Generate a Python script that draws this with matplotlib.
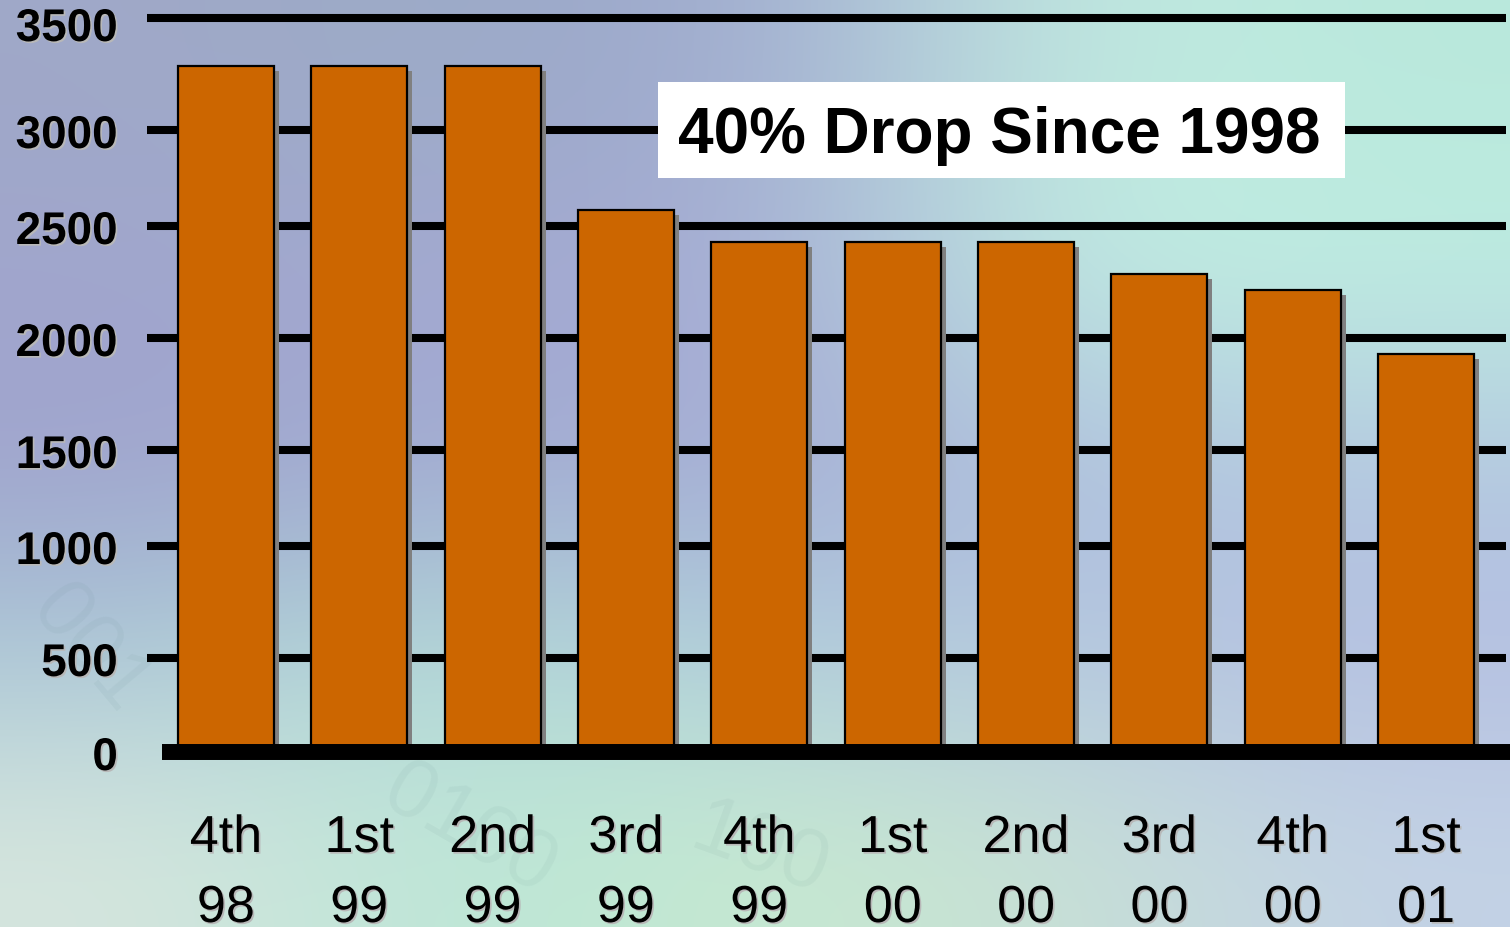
import numpy as np
import matplotlib
matplotlib.use("Agg")
import matplotlib.pyplot as plt
import matplotlib.patheffects as pe
from matplotlib.patches import Rectangle
from matplotlib.transforms import blended_transform_factory, offset_copy

# ---------------- data ----------------
quarters = ["4th", "1st", "2nd", "3rd", "4th", "1st", "2nd", "3rd", "4th", "1st"]
years = ["98", "99", "99", "99", "99", "00", "00", "00", "00", "01"]
values = [3285, 3285, 3285, 2585, 2430, 2430, 2430, 2285, 2215, 1930]
y_ticks = [0, 500, 1000, 1500, 2000, 2500, 3000, 3500]
title_text = "40% Drop Since 1998"

# ---------------- layout helpers ----------------
W, H = 1510, 927
DPI = 100
plt.rcParams['font.family'] = ['Liberation Sans', 'DejaVu Sans']

fig = plt.figure(figsize=(W / DPI, H / DPI), dpi=DPI)

def fx(px):
    return px / W

def fy(py):
    return 1 - py / H

# ---------------- background gradient ----------------
bg_colors = np.array([
    [(160, 168, 200), (155, 172, 198), (160, 168, 208), (195, 235, 225), (185, 232, 220)],
    [(160, 166, 205), (165, 170, 210), (165, 170, 212), (195, 240, 228), (190, 238, 225)],
    [(160, 162, 205), (160, 170, 210), (165, 170, 212), (175, 190, 220), (180, 200, 225)],
    [(170, 200, 215), (180, 220, 215), (175, 205, 220), (180, 200, 225), (180, 190, 225)],
    [(215, 230, 222), (185, 230, 215), (200, 235, 208), (200, 225, 212), (195, 210, 230)],
], dtype=float) / 255.0

bg = fig.add_axes([0, 0, 1, 1], zorder=0)
bg.imshow(bg_colors, extent=[0, W, H, 0], aspect='auto', interpolation='bicubic')
bg.set_xlim(0, W)
bg.set_ylim(H, 0)
bg.axis('off')

# faint binary digits decoration (kept inside the frame)
faint = dict(color=(0.35, 0.5, 0.5), alpha=0.07, fontsize=60, ha='center', va='center')
bg.text(90, 650, "001", rotation=-50, **faint)
bg.text(470, 830, "0100", rotation=-30, **faint)
bg.text(760, 850, "100", rotation=-20, **faint)

# ---------------- main axes ----------------
ax_left, ax_right = 147, 1510
ax_bottom, ax_top = 752, 18
ax = fig.add_axes([fx(ax_left), fy(ax_bottom), (ax_right - ax_left) / W,
                   (ax_bottom - ax_top) / H], zorder=1)
ax.patch.set_alpha(0)

# value axis drawn on a piecewise scale matching the reference's gridline rows
grid_rows_px = np.array([752, 658, 546, 450, 338, 226, 130, 18], dtype=float)
grid_frac = (ax_bottom - grid_rows_px) / (ax_bottom - ax_top)
tick_arr = np.array(y_ticks, dtype=float)

def fwd(v):
    return np.interp(v, tick_arr, grid_frac)

def inv(f):
    return np.interp(f, grid_frac, tick_arr)

ax.set_yscale('function', functions=(fwd, inv))
ax.set_ylim(0, 3500)

n = len(values)
x = np.arange(n)
step_px = (1426 - 226) / (n - 1)
left_units = (226 - ax_left) / step_px
right_units = (ax_right - 1426) / step_px
ax.set_xlim(-left_units, (n - 1) + right_units)

for s in ax.spines.values():
    s.set_visible(False)
ax.set_xticks([])
ax.set_yticks([])
ax.minorticks_off()

# gridlines
grid_xmax = (1506 - ax_left) / (ax_right - ax_left)
for t in y_ticks[1:]:
    ax.axhline(t, xmin=0, xmax=grid_xmax, color='black', lw=5.8, zorder=1,
               clip_on=False, solid_capstyle='butt')

# bars with shadow
bars = ax.bar(x, values, width=96 / step_px, color='#CC6600', edgecolor='black',
              linewidth=1.6, zorder=3)
for b in bars:
    b.set_path_effects([pe.SimplePatchShadow(offset=(3.6, -3.6), shadow_rgbFace='#808080',
                                             alpha=1.0), pe.Normal()])

# zero line
ax.axhline(0, xmin=(162 - ax_left) / (ax_right - ax_left), xmax=1, color='black',
           lw=11.5, zorder=5, clip_on=False, solid_capstyle='butt')

txt_shadow = [pe.SimplePatchShadow(offset=(1.2, -1.2), shadow_rgbFace=(0.72, 0.72, 0.72),
                                   alpha=1.0), pe.Normal()]

# y tick labels
ytr = blended_transform_factory(fig.transFigure, ax.transData)
ytr_off = offset_copy(ytr, fig=fig, x=0, y=-6, units='dots')
ytr_top = offset_copy(ytr, fig=fig, x=0, y=-11, units='dots')
for t in y_ticks:
    tr = ytr_top if t == y_ticks[-1] else ytr_off
    tt = ax.text(fx(118), t, str(t), transform=tr, ha='right', va='center',
                 fontsize=33, fontweight='bold', color='black', zorder=6)
    tt.set_path_effects(txt_shadow)

# x tick labels (two lines)
xtr = blended_transform_factory(ax.transData, fig.transFigure)
for i in range(n):
    t1 = ax.text(x[i], fy(852), quarters[i], transform=xtr, ha='center', va='baseline',
                 fontsize=37.5, color='black', zorder=6)
    t2 = ax.text(x[i], fy(922), years[i], transform=xtr, ha='center', va='baseline',
                 fontsize=37.5, color='black', zorder=6)
    t1.set_path_effects(txt_shadow)
    t2.set_path_effects(txt_shadow)

# title box
box = Rectangle((fx(658), fy(178)), fx(1345) - fx(658), fy(82) - fy(178),
                transform=fig.transFigure, facecolor='white', edgecolor='none', zorder=7)
fig.patches.append(box)
fig.text(fx(999), fy(153), title_text, ha='center', va='baseline', fontsize=46,
         fontweight='bold', color='black', zorder=8)

fig.savefig("out.png", dpi=DPI)
